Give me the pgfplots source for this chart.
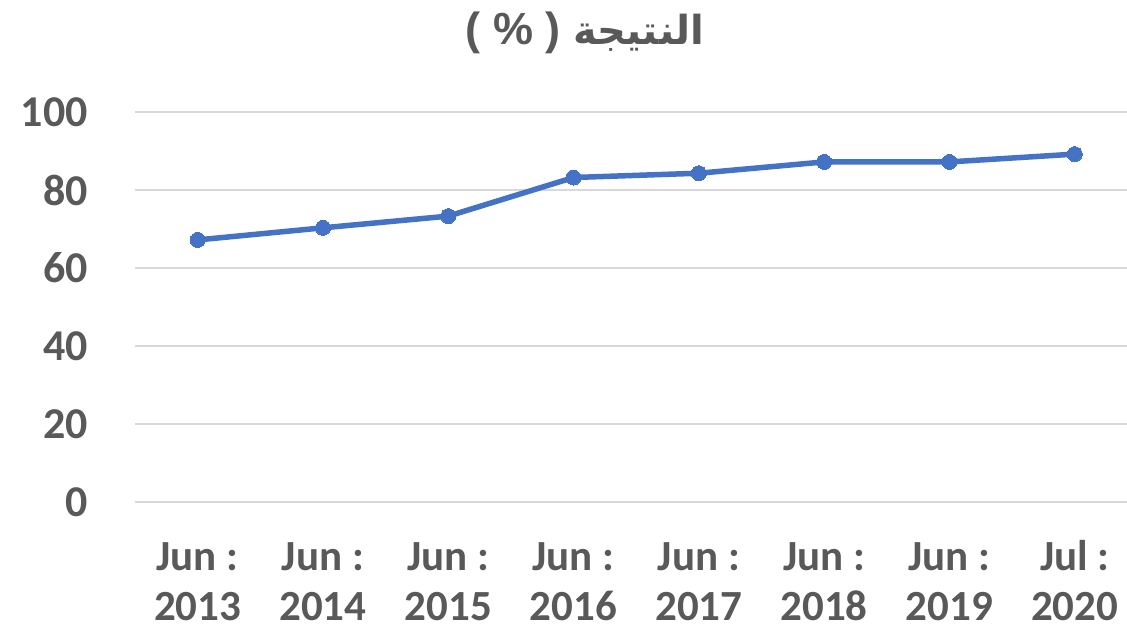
\documentclass[border=0pt]{standalone}
\usepackage{pgfplots}
\pgfplotsset{compat=1.18}
\usepackage{fontspec}
\setmainfont{Carlito}
\newfontfamily\arabicfont[Script=Arabic]{DejaVu Sans}
\newfontfamily\latintitle{Liberation Sans}
\TeXXeTstate=1
\definecolor{txt}{HTML}{595959}
\definecolor{linec}{HTML}{4472C4}
\definecolor{gridc}{HTML}{D9D9D9}
\begin{document}
\begin{tikzpicture}
\path[use as bounding box] (0,0) rectangle (1127pt,629pt);
\begin{axis}[
  at={(135pt,127pt)}, anchor=south west,
  scale only axis, width=992pt, height=390pt,
  xmin=-0.5, xmax=7.417, ymin=0, ymax=100,
  ytick={0,20,...,100},
  xtick={0,...,7},
  xticklabels={{\strut Jun :\\2013},{\strut Jun :\\2014},{\strut Jun :\\2015},{\strut Jun :\\2016},{\strut Jun :\\2017},{\strut Jun :\\2018},{\strut Jun :\\2019},{\strut Jul :\\2020}},
  axis line style={draw=none},
  major tick length=0pt,
  ymajorgrids,
  grid style={color=gridc, line width=1.5pt},
  /pgf/number format/assume math mode=true,
  xticklabel style={font=\fontsize{43}{50}\selectfont\bfseries, text=txt, align=center, inner sep=0pt, anchor=north, yshift=-33pt},
  yticklabel style={font=\fontsize{44}{50}\selectfont\bfseries, text=txt, inner sep=0pt, anchor=east, xshift=-47pt},
  clip=false,
]
\addplot[color=linec, line width=5.5pt, mark=*, mark size=7.5pt, mark options={fill=linec, draw=linec, line width=0pt}]
  coordinates {(0,67.2) (1,70.3) (2,73.3) (3,83.2) (4,84.3) (5,87.2) (6,87.2) (7,89.2)};
\end{axis}
\node[anchor=base, text=txt, inner sep=0pt] at (585pt,584pt) {\latintitle\fontsize{45}{48}\selectfont\bfseries ( \% ) {\arabicfont\fontsize{40}{44}\selectfont\bfseries\beginR النتيجة\endR}};
\end{tikzpicture}
\end{document}
